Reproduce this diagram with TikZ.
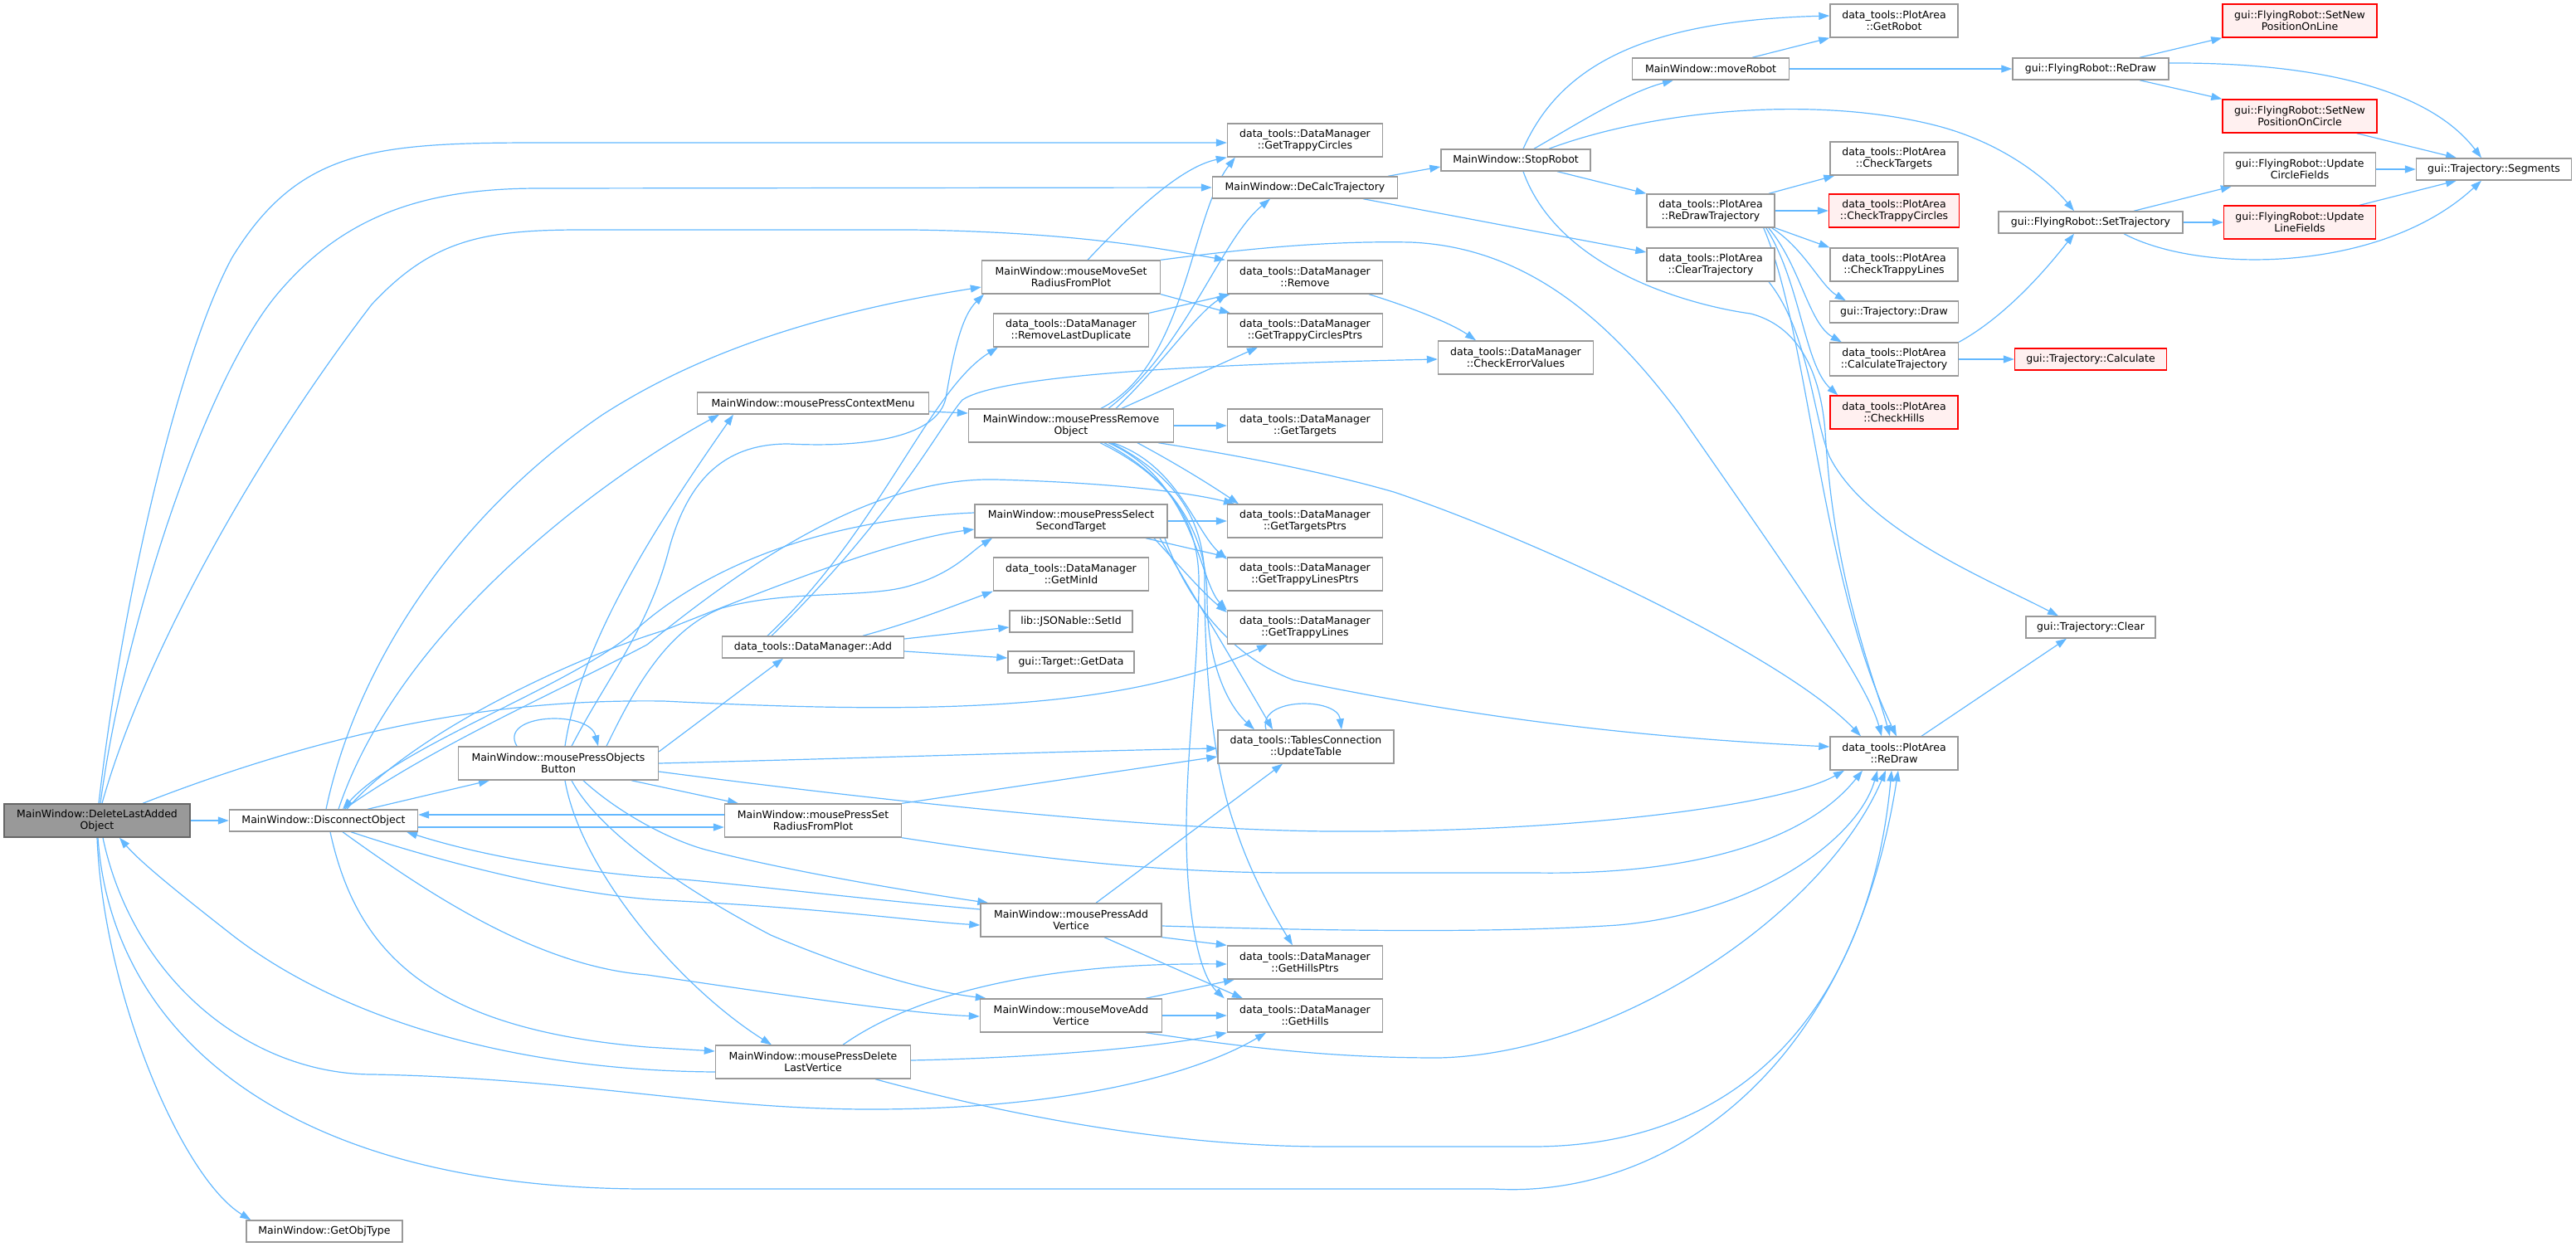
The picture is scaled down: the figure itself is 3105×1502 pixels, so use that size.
\documentclass[tikz,border=0pt]{standalone}
\usepackage{fontspec}
\setmainfont{DejaVu Sans}
\usetikzlibrary{arrows.meta}
\pgfdeclarelayer{bg}
\pgfsetlayers{bg,main}
\definecolor{edgeblue}{HTML}{63B8FF}
\definecolor{nodegray}{HTML}{999999}
\definecolor{rootborder}{HTML}{666666}
\definecolor{redfill}{HTML}{FFF0F0}
\definecolor{redborder}{HTML}{FF0000}
\begin{document}
\begin{tikzpicture}[x=1pt,y=1pt,
  box/.style={draw=nodegray, line width=1.4pt, fill=white, align=center, inner sep=2pt,
    font=\fontsize{12.5}{14}\selectfont, minimum height=26pt},
  two/.style={minimum height=40pt},
  rootbox/.style={box, fill=nodegray, draw=rootborder},
  redbox/.style={box, fill=redfill, draw=redborder},
  ed/.style={draw=edgeblue, line width=1.2pt, -{Triangle[length=13pt,width=9pt]}}]
\useasboundingbox (0,0) rectangle (3105,-1502);
% column 1-3
\node[rootbox,two,minimum width=224pt] (D0) at (117,-989) {MainWindow::DeleteLastAdded\\Object};
\node[box,minimum width=227pt] (DO) at (390,-989) {MainWindow::DisconnectObject};
\node[box,minimum width=188pt] (GOT) at (391,-1484) {MainWindow::GetObjType};
\node[box,two,minimum width=241pt] (OB) at (673,-920) {MainWindow::mousePressObjects\\Button};
% column 4
\node[box,minimum width=279pt] (CM) at (980,-486) {MainWindow::mousePressContextMenu};
\node[box,minimum width=219pt] (ADD) at (980,-780) {data\_tools::DataManager::Add};
\node[box,two,minimum width=213pt] (SRP) at (980,-989) {MainWindow::mousePressSet\\RadiusFromPlot};
\node[box,two,minimum width=235pt] (DLV) at (980,-1280) {MainWindow::mousePressDelete\\LastVertice};
% column 5
\node[box,two,minimum width=215pt] (MMSR) at (1291,-334) {MainWindow::mouseMoveSet\\RadiusFromPlot};
\node[box,two,minimum width=187pt] (RLD) at (1291,-398) {data\_tools::DataManager\\::RemoveLastDuplicate};
\node[box,two,minimum width=247pt] (RO) at (1291,-513) {MainWindow::mousePressRemove\\Object};
\node[box,two,minimum width=232pt] (SST) at (1291,-628) {MainWindow::mousePressSelect\\SecondTarget};
\node[box,two,minimum width=187pt] (GMI) at (1291,-692) {data\_tools::DataManager\\::GetMinId};
\node[box,minimum width=148pt] (SID) at (1291,-749) {lib::JSONable::SetId};
\node[box,minimum width=152pt] (GDT) at (1291,-798) {gui::Target::GetData};
\node[box,two,minimum width=218pt] (AV) at (1291,-1109) {MainWindow::mousePressAdd\\Vertice};
\node[box,two,minimum width=219pt] (MAV) at (1291,-1224) {MainWindow::mouseMoveAdd\\Vertice};
% column 6
\node[box,two,minimum width=187pt] (GTC) at (1573,-169) {data\_tools::DataManager\\::GetTrappyCircles};
\node[box,minimum width=223pt] (DCT) at (1573,-226) {MainWindow::DeCalcTrajectory};
\node[box,two,minimum width=187pt] (REM) at (1573,-334) {data\_tools::DataManager\\::Remove};
\node[box,two,minimum width=187pt] (GTCP) at (1573,-398) {data\_tools::DataManager\\::GetTrappyCirclesPtrs};
\node[box,two,minimum width=187pt] (GTG) at (1573,-513) {data\_tools::DataManager\\::GetTargets};
\node[box,two,minimum width=187pt] (GTGP) at (1573,-628) {data\_tools::DataManager\\::GetTargetsPtrs};
\node[box,two,minimum width=187pt] (GTLP) at (1573,-692) {data\_tools::DataManager\\::GetTrappyLinesPtrs};
\node[box,two,minimum width=187pt] (GTL) at (1573,-756) {data\_tools::DataManager\\::GetTrappyLines};
\node[box,two,minimum width=212pt] (UT) at (1574,-900) {data\_tools::TablesConnection\\::UpdateTable};
\node[box,two,minimum width=187pt] (GHP) at (1573,-1160) {data\_tools::DataManager\\::GetHillsPtrs};
\node[box,two,minimum width=187pt] (GH) at (1573,-1224) {data\_tools::DataManager\\::GetHills};
% column 7
\node[box,minimum width=180pt] (SR) at (1827,-193) {MainWindow::StopRobot};
\node[box,two,minimum width=187pt] (CEV) at (1827,-431) {data\_tools::DataManager\\::CheckErrorValues};
% column 8
\node[box,minimum width=189pt] (MR) at (2062,-83) {MainWindow::moveRobot};
\node[box,two,minimum width=154pt] (RDT) at (2062,-254) {data\_tools::PlotArea\\::ReDrawTrajectory};
\node[box,two,minimum width=154pt] (CT) at (2062,-319) {data\_tools::PlotArea\\::ClearTrajectory};
% column 9
\node[box,two,minimum width=154pt] (GR) at (2283,-25) {data\_tools::PlotArea\\::GetRobot};
\node[box,two,minimum width=154pt] (CTG) at (2283,-191) {data\_tools::PlotArea\\::CheckTargets};
\node[redbox,two,minimum width=157pt] (CTC) at (2283,-254) {data\_tools::PlotArea\\::CheckTrappyCircles};
\node[box,two,minimum width=154pt] (CTL) at (2283,-319) {data\_tools::PlotArea\\::CheckTrappyLines};
\node[box,minimum width=155pt] (TD) at (2283,-376) {gui::Trajectory::Draw};
\node[box,two,minimum width=155pt] (CALT) at (2283,-433) {data\_tools::PlotArea\\::CalculateTrajectory};
\node[redbox,two,minimum width=154pt] (CH) at (2283,-497) {data\_tools::PlotArea\\::CheckHills};
\node[box,two,minimum width=154pt] (PRD) at (2283,-908) {data\_tools::PlotArea\\::ReDraw};
% column 10
\node[box,minimum width=188pt] (FRD) at (2520,-83) {gui::FlyingRobot::ReDraw};
\node[box,minimum width=222pt] (ST) at (2520,-268) {gui::FlyingRobot::SetTrajectory};
\node[redbox,minimum width=183pt] (TCALC) at (2520,-433) {gui::Trajectory::Calculate};
\node[box,minimum width=156pt] (TCLR) at (2520,-756) {gui::Trajectory::Clear};
% column 11
\node[redbox,two,minimum width=186pt] (SNPL) at (2772,-25) {gui::FlyingRobot::SetNew\\PositionOnLine};
\node[redbox,two,minimum width=186pt] (SNPC) at (2772,-140) {gui::FlyingRobot::SetNew\\PositionOnCircle};
\node[box,two,minimum width=183pt] (UCF) at (2772,-204) {gui::FlyingRobot::Update\\CircleFields};
\node[redbox,two,minimum width=183pt] (ULF) at (2772,-268) {gui::FlyingRobot::Update\\LineFields};
% column 12
\node[box,minimum width=187pt] (SEG) at (3006,-204) {gui::Trajectory::Segments};

\begin{pgfonlayer}{bg}
% DeleteLastAddedObject
\draw[ed] (D0.east) -- (DO.west);
\draw[ed] (D0.south) .. controls (125,-1200) and (220,-1420) .. ([xshift=6pt]GOT.north west);
\draw[ed] ([xshift=2pt]D0.north) .. controls (150,-700) and (220,-420) .. (280,-310) .. controls (360,-180) and (450,-172) .. (650,-172) -- ([yshift=-3pt]GTC.west);
\draw[ed] ([xshift=4pt]D0.north) .. controls (150,-750) and (250,-450) .. (338,-350) .. controls (420,-255) and (520,-227) .. (650,-227) -- (DCT.west);
\draw[ed] ([xshift=6pt]D0.north) .. controls (170,-800) and (300,-560) .. (448,-367) .. controls (520,-290) and (580,-277) .. (700,-277) -- (1100,-277) .. controls (1300,-280) and (1400,-300) .. ([xshift=-2pt]REM.north west);
\draw[ed] ([xshift=55pt]D0.north) .. controls (450,-860) and (650,-843) .. (800,-845) .. controls (1100,-860) and (1350,-860) .. ([xshift=-45pt]GTL.south);
\draw[ed] ([xshift=7pt]D0.south) .. controls (160,-1180) and (300,-1295) .. (450,-1295) .. controls (700,-1300) and (850,-1337) .. (1050,-1337) .. controls (1300,-1337) and (1450,-1290) .. ([xshift=-47pt]GH.south);
\draw[ed] ([xshift=1pt]D0.south) .. controls (135,-1250) and (350,-1433) .. (780,-1433) -- (1800,-1433) .. controls (2000,-1445) and (2230,-1300) .. ([xshift=5pt]PRD.south);
% DisconnectObject
\draw[ed] ([xshift=53pt]DO.north) -- ([xshift=-83pt]OB.south);
\draw[ed] ([xshift=18pt]DO.north) .. controls (480,-760) and (720,-580) .. ([xshift=-113pt]CM.south);
\draw[ed] ([xshift=3pt]DO.north) .. controls (430,-800) and (550,-620) .. (726,-500) .. controls (850,-420) and (1000,-375) .. ([yshift=-12pt]MMSR.west);
\draw[ed] ([xshift=28pt]DO.north) .. controls (500,-880) and (700,-790) .. (800,-760) .. controls (950,-700) and (1080,-650) .. ([yshift=-10pt]SST.west);
\draw[ed] ([yshift=10pt]SST.west) .. controls (1000,-625) and (850,-680) .. (760,-765) .. controls (680,-830) and (480,-900) .. ([xshift=23pt]DO.north);
\draw[ed] ([xshift=25pt]DO.north) .. controls (520,-900) and (680,-830) .. (780,-777) .. controls (900,-680) and (1050,-575) .. (1200,-578) .. controls (1350,-582) and (1440,-595) .. ([xshift=-85pt]GTGP.north);
\draw[ed] ([yshift=-8pt]DO.east) -- ([yshift=-8pt]SRP.west);
\draw[ed] ([yshift=7pt]SRP.west) -- ([yshift=7pt]DO.east);
\draw[ed] ([xshift=33pt]DO.south) .. controls (550,-1045) and (700,-1080) .. (800,-1085) .. controls (1000,-1095) and (1100,-1110) .. ([yshift=-6pt]AV.west);
\draw[ed] ([yshift=13pt]AV.west) .. controls (1000,-1080) and (850,-1060) .. (780,-1057) .. controls (650,-1045) and (560,-1025) .. ([xshift=100pt]DO.south);
\draw[ed] ([xshift=23pt]DO.south) .. controls (520,-1080) and (650,-1165) .. (780,-1175) .. controls (950,-1200) and (1100,-1222) .. ([yshift=-1pt]MAV.west);
\draw[ed] ([xshift=8pt]DO.south) .. controls (430,-1150) and (520,-1240) .. (780,-1262) -- ([yshift=13pt]DLV.west);
% mousePressObjectsButton
\draw[ed] ([xshift=-50pt]OB.north) .. controls (600,-860) and (710,-855) .. ([xshift=48pt]OB.north);
\draw[ed] ([xshift=8pt]OB.north) .. controls (700,-770) and (800,-620) .. ([xshift=-96pt]CM.south);
\draw[ed] ([xshift=16pt]OB.north) .. controls (730,-820) and (780,-760) .. (805,-667) .. controls (830,-570) and (880,-535) .. (950,-535) .. controls (1050,-540) and (1130,-525) .. (1140,-480) .. controls (1150,-420) and (1160,-380) .. ([xshift=-105pt]MMSR.south);
\draw[ed] ([xshift=58pt]OB.north) .. controls (760,-840) and (800,-760) .. (870,-733) .. controls (950,-710) and (1050,-722) .. (1100,-705) .. controls (1150,-690) and (1170,-665) .. ([xshift=-95pt]SST.south);
\draw[ed] ([yshift=14pt]OB.east) -- ([xshift=-36pt]ADD.south);
\draw[ed] (OB.east) .. controls (1000,-915) and (1300,-905) .. ([yshift=-2pt]UT.west);
\draw[ed] ([yshift=-10pt]OB.east) .. controls (1100,-970) and (1400,-1000) .. (1600,-1002) .. controls (1900,-1004) and (2150,-970) .. ([xshift=-60pt]PRD.south);
\draw[ed] ([xshift=88pt]OB.south) -- ([xshift=-90pt]SRP.north);
\draw[ed] ([xshift=30pt]OB.south) .. controls (740,-975) and (800,-1010) .. (850,-1024) .. controls (950,-1050) and (1100,-1075) .. ([xshift=10pt]AV.north west);
\draw[ed] ([xshift=16pt]OB.south) .. controls (720,-1000) and (820,-1070) .. (929,-1127) .. controls (1030,-1170) and (1120,-1195) .. ([xshift=8pt]MAV.north west);
\draw[ed] ([xshift=8pt]OB.south) .. controls (700,-1050) and (820,-1190) .. ([xshift=-50pt]DLV.north);
% mousePressDeleteLastVertice
\draw[ed] ([yshift=-12pt]DLV.west) .. controls (600,-1290) and (400,-1220) .. (280,-1127) .. controls (220,-1080) and (170,-1040) .. ([xshift=27pt]D0.south);
\draw[ed] ([xshift=36pt]DLV.north) .. controls (1100,-1200) and (1250,-1160) .. ([yshift=-2pt]GHP.west);
\draw[ed] ([yshift=2pt]DLV.east) .. controls (1250,-1275) and (1400,-1262) .. (GH.south west);
\draw[ed] ([xshift=75pt]DLV.south) .. controls (1200,-1340) and (1400,-1382) .. (1600,-1382) -- (1850,-1382) .. controls (2150,-1380) and (2260,-1150) .. ([xshift=-3pt]PRD.south);
% mousePressSetRadiusFromPlot
\draw[ed] (SRP.north east) -- ([yshift=-12pt]UT.west);
\draw[ed] (SRP.south east) .. controls (1250,-1035) and (1400,-1052) .. (1560,-1052) -- (1850,-1052) .. controls (2050,-1055) and (2180,-1010) .. ([xshift=-38pt]PRD.south);
% mousePressAddVertice
\draw[ed] ([xshift=30pt]AV.north) -- ([xshift=-28pt]UT.south);
\draw[ed] ([yshift=-7pt]AV.east) .. controls (1600,-1122) and (1800,-1125) .. (1950,-1115) .. controls (2120,-1100) and (2240,-1010) .. ([xshift=-20pt]PRD.south);
\draw[ed] (AV.south east) -- (GHP.north west);
\draw[ed] ([xshift=40pt]AV.south) -- ([xshift=-75pt]GH.north);
% mouseMoveAddVertice
\draw[ed] ([xshift=90pt]MAV.north) -- ([xshift=-85pt]GHP.south);
\draw[ed] (MAV.east) -- (GH.west);
\draw[ed] ([xshift=90pt]MAV.south) .. controls (1500,-1262) and (1600,-1275) .. (1734,-1275) .. controls (1950,-1270) and (2200,-1100) .. ([xshift=-10pt]PRD.south);
% context menu
\draw[ed] ([yshift=-10pt]CM.east) -- ([yshift=15pt]RO.west);
% DataManager::Add
\draw[ed] ([xshift=-55pt]ADD.north) .. controls (1060,-640) and (1120,-470) .. ([xshift=6pt]RLD.south west);
\draw[ed] ([xshift=-50pt]ADD.north) .. controls (1080,-620) and (1135,-510) .. (1160,-482) .. controls (1200,-455) and (1400,-440) .. ([yshift=-2pt]CEV.west);
\draw[ed] ([xshift=60pt]ADD.north) .. controls (1100,-750) and (1150,-730) .. (GMI.south west);
\draw[ed] ([yshift=10pt]ADD.east) -- ([yshift=-7pt]SID.west);
\draw[ed] ([yshift=-5pt]ADD.east) -- ([yshift=5pt]GDT.west);
% mouseMoveSetRadiusFromPlot
\draw[ed] ([xshift=20pt]MMSR.north) .. controls (1380,-240) and (1430,-200) .. (GTC.south west);
\draw[ed] (MMSR.south east) -- ([xshift=4pt]GTCP.north west);
\draw[ed] (MMSR.north east) .. controls (1500,-300) and (1600,-290) .. (1700,-292) .. controls (1850,-298) and (1950,-400) .. (2025,-500) .. controls (2150,-680) and (2250,-820) .. ([xshift=-15pt]PRD.north);
\draw[ed] (RLD.north east) -- ([xshift=4pt]REM.south west);
\draw[ed] ([xshift=77pt]REM.south) .. controls (1700,-370) and (1750,-390) .. ([xshift=-48pt]CEV.north);
% mousePressRemoveObject
\draw[ed] ([xshift=36pt]RO.north) .. controls (1430,-440) and (1435,-260) .. ([xshift=10pt]GTC.south west);
\draw[ed] ([xshift=45pt]RO.north) .. controls (1430,-420) and (1470,-290) .. ([xshift=-42pt]DCT.south);
\draw[ed] ([xshift=54pt]RO.north) .. controls (1400,-440) and (1440,-380) .. (REM.south west);
\draw[ed] ([xshift=61pt]RO.north) -- ([xshift=-57pt]GTCP.south);
\draw[ed] (RO.east) -- (GTG.west);
\draw[ed] ([xshift=80pt]RO.south) .. controls (1420,-560) and (1460,-585) .. ([xshift=-80pt]GTGP.north);
\draw[ed] ([xshift=50pt]RO.south) .. controls (1420,-560) and (1440,-640) .. ([yshift=18pt]GTLP.west);
\draw[ed] ([xshift=45pt]RO.south) .. controls (1440,-580) and (1445,-700) .. (GTL.north west);
\draw[ed] ([xshift=40pt]RO.south) .. controls (1420,-580) and (1455,-650) .. (1455,-720) .. controls (1455,-800) and (1480,-850) .. ([xshift=-62pt]UT.north);
\draw[ed] ([xshift=105pt]RO.south) .. controls (1500,-550) and (1600,-570) .. (1680,-593) .. controls (1850,-650) and (2150,-790) .. ([xshift=-40pt]PRD.north);
\draw[ed] ([xshift=48pt]RO.south) .. controls (1410,-570) and (1452,-620) .. (1452,-700) .. controls (1452,-800) and (1460,-920) .. (1490,-1000) .. controls (1510,-1060) and (1540,-1110) .. ([xshift=-15pt]GHP.north);
\draw[ed] ([xshift=35pt]RO.south) .. controls (1400,-570) and (1445,-620) .. (1445,-700) .. controls (1445,-800) and (1430,-900) .. (1430,-1000) .. controls (1430,-1100) and (1445,-1175) .. ([xshift=-3pt]GH.north west);
% mousePressSelectSecondTarget
\draw[ed] (SST.east) -- (GTGP.west);
\draw[ed] ([xshift=90pt]SST.south) -- (GTLP.north west);
\draw[ed] ([xshift=100pt]SST.south) .. controls (1420,-680) and (1450,-715) .. ([yshift=18pt]GTL.west);
\draw[ed] ([xshift=107pt]SST.south) .. controls (1440,-720) and (1500,-820) .. ([xshift=-40pt]UT.north);
\draw[ed] ([xshift=113pt]SST.south) .. controls (1430,-720) and (1480,-790) .. (1560,-820) .. controls (1800,-870) and (2000,-890) .. ([yshift=8pt]PRD.west);
% UpdateTable self loop
\draw[ed] ([xshift=-48pt]UT.north) .. controls (1515,-840) and (1612,-840) .. ([xshift=43pt]UT.north);
% DeCalcTrajectory
\draw[ed] ([xshift=100pt]DCT.north) -- ([yshift=-8pt]SR.west);
\draw[ed] ([xshift=70pt]DCT.south) -- ([yshift=15pt]CT.west);
% StopRobot
\draw[ed] ([xshift=9pt]SR.north) .. controls (1880,-80) and (1980,-25) .. ([yshift=6pt]GR.west);
\draw[ed] ([xshift=22pt]SR.north) .. controls (1900,-150) and (1960,-112) .. ([xshift=-45pt]MR.south);
\draw[ed] ([xshift=40pt]SR.north) .. controls (2000,-130) and (2200,-115) .. (2340,-153) .. controls (2430,-178) and (2480,-230) .. ([xshift=-20pt]ST.north);
\draw[ed] ([xshift=50pt]SR.south) -- (RDT.north west);
\draw[ed] ([xshift=9pt]SR.south) .. controls (1880,-330) and (2050,-370) .. (2110,-378) .. controls (2175,-395) and (2195,-460) .. (2200,-520) .. controls (2210,-700) and (2260,-820) .. ([xshift=-5pt]PRD.north);
% moveRobot
\draw[ed] ([xshift=50pt]MR.north) -- (GR.south west);
\draw[ed] (MR.east) -- (FRD.west);
% ReDrawTrajectory
\draw[ed] ([xshift=70pt]RDT.north) -- ([xshift=6pt]CTG.south west);
\draw[ed] (RDT.east) -- (CTC.west);
\draw[ed] (RDT.south east) -- (CTL.north west);
\draw[ed] ([xshift=-4pt]RDT.south east) .. controls (2175,-300) and (2195,-345) .. ([xshift=20pt]TD.north west);
\draw[ed] ([xshift=-8pt]RDT.south east) .. controls (2170,-320) and (2180,-390) .. ([xshift=15pt]CALT.north west);
\draw[ed] ([xshift=-11pt]RDT.south east) .. controls (2170,-340) and (2175,-440) .. ([xshift=10pt]CH.north west);
\draw[ed] ([xshift=-14pt]RDT.south east) .. controls (2180,-400) and (2195,-700) .. ([xshift=3pt]PRD.north);
% ClearTrajectory
\draw[ed] ([xshift=70pt]CT.south) .. controls (2180,-400) and (2185,-500) .. (2205,-550) .. controls (2250,-640) and (2400,-700) .. ([xshift=-39pt]TCLR.north);
% CalculateTrajectory
\draw[ed] (CALT.north east) .. controls (2420,-380) and (2470,-320) .. ([xshift=-20pt]ST.south);
\draw[ed] (CALT.east) -- (TCALC.west);
% PlotArea::ReDraw
\draw[ed] ([xshift=33pt]PRD.north) -- ([xshift=-29pt]TCLR.south);
% FlyingRobot::ReDraw
\draw[ed] ([xshift=59pt]FRD.north) -- (SNPL.south west);
\draw[ed] ([xshift=59pt]FRD.south) -- (SNPC.north west);
\draw[ed] ([yshift=7pt]FRD.east) .. controls (2800,-75) and (2930,-110) .. ([xshift=-15pt]SEG.north);
\draw[ed] ([xshift=-25pt]SNPC.south east) -- ([xshift=-45pt]SEG.north);
% SetTrajectory
\draw[ed] ([xshift=52pt]ST.north) -- ([xshift=10pt]UCF.south west);
\draw[ed] (ST.east) -- (ULF.west);
\draw[ed] ([xshift=40pt]ST.south) .. controls (2650,-330) and (2870,-330) .. ([xshift=-15pt]SEG.south);
\draw[ed] (UCF.east) -- (SEG.west);
\draw[ed] ([xshift=-20pt]ULF.north east) -- ([xshift=-45pt]SEG.south);
\end{pgfonlayer}
\end{tikzpicture}
\end{document}
